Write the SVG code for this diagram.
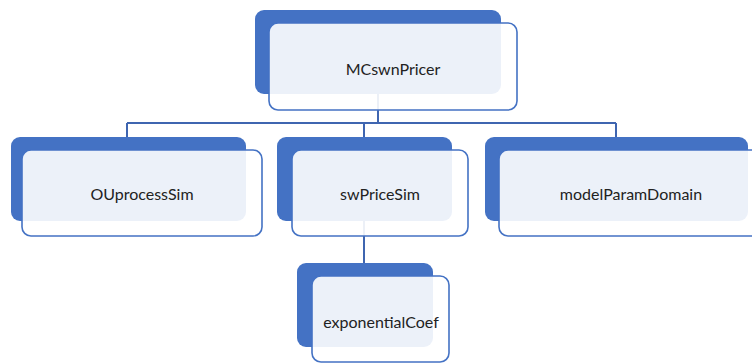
<svg xmlns="http://www.w3.org/2000/svg" width="752" height="363" viewBox="0 0 752 363">
<style>
.back{fill:#4472C4;}
.front{fill:#FFFFFF;fill-opacity:0.9;stroke:#4472C4;stroke-width:1.6;}
.lbl{font-family:Lato,"Open Sans",sans-serif;font-size:16px;fill:#222222;text-anchor:middle;dominant-baseline:central;}
.conn{fill:none;stroke:#3F65B0;stroke-width:2;}
</style>
<rect width="752" height="363" fill="#FFFFFF"/>
<g id="connectors">
<path class="conn" d="M378,94 V123 M127,123 H616 M127,123 V137 M364,123 V137 M616,123 V137 M364,221 V263"/>
</g>
<g id="MCswnPricer">
<rect class="back" x="255" y="10" width="246" height="84" rx="9"/>
<rect class="front" x="269" y="23" width="248" height="87" rx="9"/>
<text class="lbl" x="393" y="68">MCswnPricer</text>
</g>
<g id="OUprocessSim">
<rect class="back" x="11" y="137" width="235" height="84" rx="9"/>
<rect class="front" x="22" y="150" width="240" height="86" rx="9"/>
<text class="lbl" x="142" y="193">OUprocessSim</text>
</g>
<g id="swPriceSim">
<rect class="back" x="277" y="137" width="175" height="84" rx="9"/>
<rect class="front" x="292" y="150" width="176" height="86" rx="9"/>
<text class="lbl" x="380" y="193">swPriceSim</text>
</g>
<g id="modelParamDomain">
<rect class="back" x="485" y="137" width="263" height="84" rx="9"/>
<rect class="front" x="499" y="150" width="266" height="86" rx="9"/>
<text class="lbl" x="631" y="193">modelParamDomain</text>
</g>
<g id="exponentialCoef">
<rect class="back" x="297" y="263" width="136" height="84" rx="9"/>
<rect class="front" x="312" y="276" width="137" height="86" rx="9"/>
<text class="lbl" x="381" y="321">exponentialCoef</text>
</g>
</svg>
